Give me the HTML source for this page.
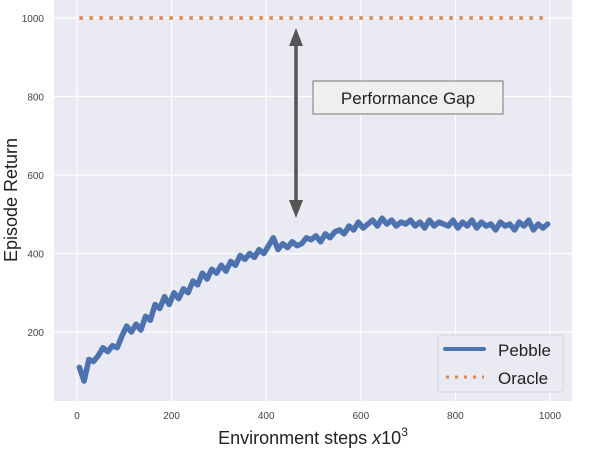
<!DOCTYPE html>
<html><head><meta charset="utf-8"><style>
html,body{margin:0;padding:0;background:#fff;}
svg{display:block;font-family:"Liberation Sans",sans-serif;}
</style></head><body>
<svg id="chart" width="606" height="476" viewBox="0 0 606 476">
<rect x="54" y="0" width="518" height="401" fill="#eaeaf2"/>
<g id="grid"></g><g id="ticks"></g>
<g id="series"></g>
<g>
<line x1="296" y1="44" x2="296" y2="200" stroke="#555" stroke-width="3.5"/>
<polygon points="296,28 289,46 303,46" fill="#555"/>
<polygon points="296,218 289,200 303,200" fill="#555"/>
<rect x="313" y="81" width="190" height="33" fill="#efefef" stroke="#777" stroke-width="1"/>
<text x="408" y="104" font-size="17" text-anchor="middle" fill="#222">Performance Gap</text>
</g>
<g>
<rect x="438" y="335" width="125" height="57" rx="3" fill="#eaeaf2" stroke="#d4d4dc"/>
<line x1="445" y1="349" x2="484" y2="349" stroke="#4c72b0" stroke-width="4" stroke-linecap="round"/>
<text x="498" y="356" font-size="17" fill="#222">Pebble</text>
<line x1="446" y1="377" x2="484" y2="377" stroke="#dd8452" stroke-width="3" stroke-dasharray="3 6"/>
<text x="498" y="384" font-size="17" fill="#222">Oracle</text>
</g>
<text x="313" y="444" font-size="18" text-anchor="middle" fill="#222">Environment steps <tspan font-style="italic">x</tspan>10<tspan font-size="12" dy="-8">3</tspan></text>
<text transform="translate(17,200) rotate(-90)" font-size="18" text-anchor="middle" fill="#222">Episode Return</text>
</svg>
<script>
const xTicks=[0,200,400,600,800,1000];
const yTicks=[200,400,600,800,1000];
const steps=[5,15,25,35,45,55,65,75,85,95,105,115,125,135,145,155,165,175,185,195,205,215,225,235,245,255,265,275,285,295,305,315,325,335,345,355,365,375,385,395,405,415,425,435,445,455,465,475,485,495,505,515,525,535,545,555,565,575,585,595,605,615,625,635,645,655,665,675,685,695,705,715,725,735,745,755,765,775,785,795,805,815,825,835,845,855,865,875,885,895,905,915,925,935,945,955,965,975,985,995];
const pebble=[110,75,130,125,140,160,150,165,160,190,215,200,220,205,240,230,270,260,290,270,300,285,310,300,330,320,350,335,360,350,370,355,380,370,395,385,400,390,410,400,420,440,410,425,415,430,420,425,440,435,445,430,450,440,455,460,450,470,460,480,465,475,485,470,490,475,485,470,480,475,485,470,480,465,485,470,480,475,470,485,465,480,470,485,465,480,470,475,460,480,470,475,460,480,470,485,460,475,465,475];
const oracleSteps=[5,990];
const oracle=[1000,1000];
const X=v=>77+v*0.473, Y=v=>18+(1000-v)*0.3925;
const NS="http://www.w3.org/2000/svg";
const grid=document.getElementById('grid'),ticks=document.getElementById('ticks'),series=document.getElementById('series');
function mk(t,a,p){const e=document.createElementNS(NS,t);for(const k in a)e.setAttribute(k,a[k]);p.appendChild(e);return e;}
xTicks.forEach(v=>{
 const g=mk('line',{x1:X(v),x2:X(v),y1:0,y2:401,stroke:'#fff','stroke-width':1.2},grid);
 
 
 const t=mk('text',{x:X(v),y:419,'font-size':10,'text-anchor':'middle',fill:'#444'},ticks);
 t.textContent=v;
 
 
});
yTicks.forEach(v=>{
 const g=mk('line',{x1:54,x2:572,y1:Y(v),y2:Y(v),stroke:'#fff','stroke-width':1.2},grid);
 
 
 const t=mk('text',{x:44,y:Y(v)+4,'font-size':10,'text-anchor':'end',fill:'#444'},ticks);
 t.textContent=v;
 
 
});
const o=mk('polyline',{points:oracleSteps.map((s,i)=>X(s)+','+Y(oracle[i])).join(' '),fill:'none',stroke:'#dd8452','stroke-width':3.5,'stroke-dasharray':'3.5 6.5'},series);


const p=mk('polyline',{points:steps.map((s,i)=>X(s)+','+Y(pebble[i])).join(' '),fill:'none',stroke:'#4c72b0','stroke-width':5.5,'stroke-linejoin':'round','stroke-linecap':'round'},series);


</script>
</body></html>
